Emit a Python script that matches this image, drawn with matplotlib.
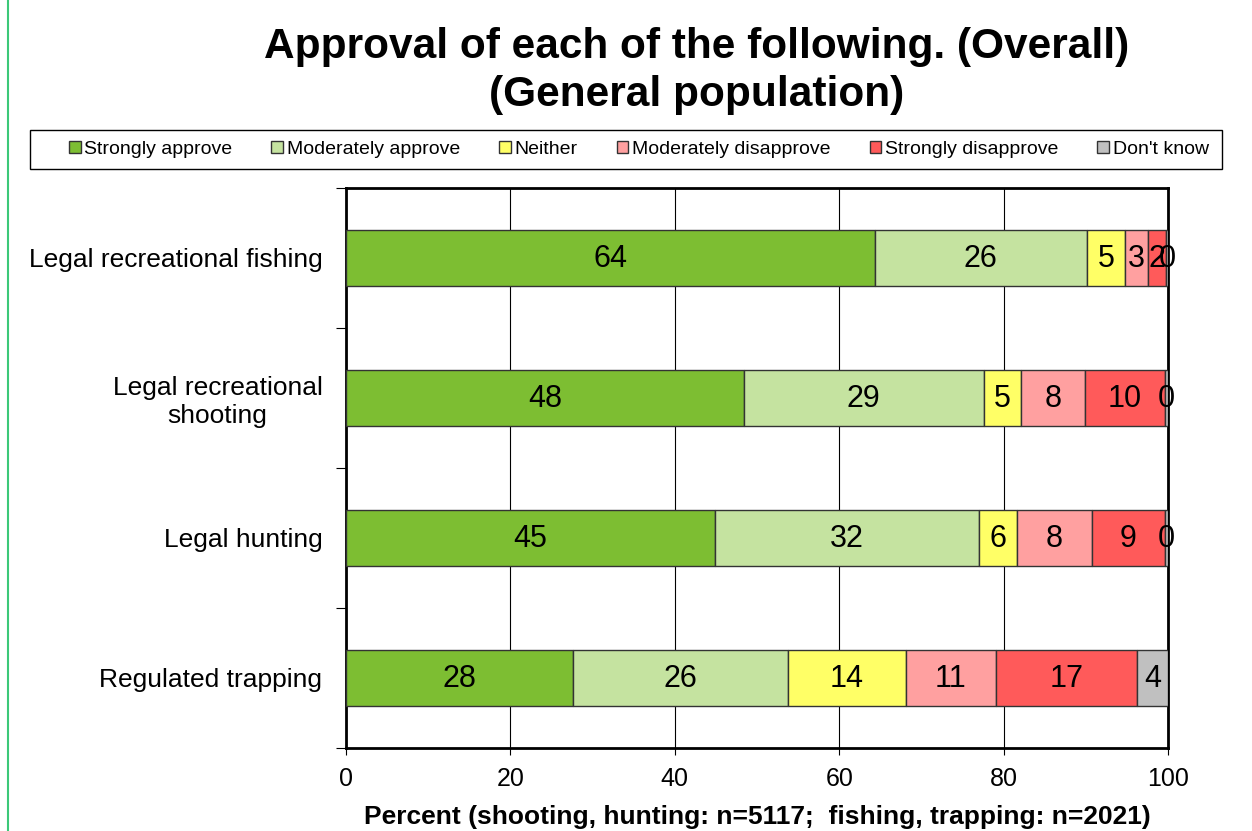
import matplotlib
matplotlib.use("Agg")
import matplotlib.pyplot as plt
import numpy as np
from matplotlib.lines import Line2D
from matplotlib.patches import Rectangle

plt.rcParams['font.family'] = ['Liberation Sans', 'DejaVu Sans']

categories = ["Legal recreational fishing", "Legal recreational\nshooting", "Legal hunting", "Regulated trapping"]
series_names = ["Strongly approve", "Moderately approve", "Neither", "Moderately disapprove", "Strongly disapprove", "Don't know"]
colors = ["#7DBE32", "#C5E3A0", "#FFFF66", "#FFA0A0", "#FF5A5A", "#C0C0C0"]

strongly_approve = [64.3, 48.4, 44.9, 27.6]
moderately_approve = [25.8, 29.2, 32.1, 26.2]
neither = [4.7, 4.5, 4.6, 14.3]
moderately_disapprove = [2.8, 7.8, 9.2, 11.0]
strongly_disapprove = [2.2, 9.7, 8.8, 17.1]
dont_know = [0.2, 0.4, 0.4, 3.8]
labels = [
    ["64", "26", "5", "3", "2", "0"],
    ["48", "29", "5", "8", "10", "0"],
    ["45", "32", "6", "8", "9", "0"],
    ["28", "26", "14", "11", "17", "4"],
]
series = [strongly_approve, moderately_approve, neither, moderately_disapprove, strongly_disapprove, dont_know]

fig = plt.figure(figsize=(12.52, 8.31), dpi=100)
ax = fig.add_axes([346/1252, 1-748/831, (1168-346)/1252, (748-188)/831])

y = np.arange(len(categories))
left = np.zeros(len(categories))
for i, (name, vals, c) in enumerate(zip(series_names, series, colors)):
    vals = np.array(vals)
    ax.barh(y, vals, left=left, height=0.4, color=c, edgecolor="#333333", linewidth=1.0, label=name, zorder=3)
    for j in range(len(categories)):
        ax.text(left[j] + vals[j] / 2, y[j] + 0.01, labels[j][i], ha="center", va="center", fontsize=22, zorder=4)
    left += vals

ax.set_xlim(0, 100)
ax.set_ylim(len(categories) - 0.5, -0.5)
ax.set_xticks([0, 20, 40, 60, 80, 100])
ax.tick_params(axis="x", labelsize=18, length=5, direction="out", pad=9)
ax.set_yticks(np.arange(-0.5, len(categories), 1.0), minor=False)
ax.set_yticklabels([])
ax.set_yticks(y, minor=True)
ax.set_yticklabels(categories, minor=True, fontsize=19)
ax.tick_params(axis="y", which="minor", length=0, pad=17)
ax.tick_params(axis="y", which="major", length=7, direction="out")
for lab in ax.get_yticklabels(minor=True):
    lab.set_horizontalalignment("right")
    lab.set_multialignment("center")
ax.xaxis.grid(True, color="black", linewidth=0.8, zorder=0)
ax.set_axisbelow(True)
for s in ax.spines.values():
    s.set_linewidth(2)
    s.set_color("black")
ax.set_xlabel("Percent (shooting, hunting: n=5117;  fishing, trapping: n=2021)", fontsize=19, fontweight="bold", labelpad=10)

fig.text(697/1252, 1-71/831, "Approval of each of the following. (Overall)\n(General population)",
         ha="center", va="center", fontsize=30.5, fontweight="bold", linespacing=1.25)

# legend frame
fig.add_artist(Rectangle((30/1252, 1-169/831), (1222-30)/1252, 39/831, transform=fig.transFigure,
                         facecolor="white", edgecolor="black", linewidth=1.0))
handles = [plt.Rectangle((0, 0), 1, 1, facecolor=c, edgecolor="#333333", linewidth=1.0) for c in colors]
leg = fig.legend(handles, series_names, loc="center", bbox_to_anchor=(639/1252, 1-149.5/831), ncol=6,
                 fontsize=14, frameon=False, handlelength=0.6, handleheight=0.6,
                 handletextpad=0.2, columnspacing=2.0, borderpad=0.3)

fig.add_artist(Line2D([8/1252, 8/1252], [0, 1], color="#3CC878", linewidth=1.5, transform=fig.transFigure))

fig.savefig("out.png", dpi=100)
